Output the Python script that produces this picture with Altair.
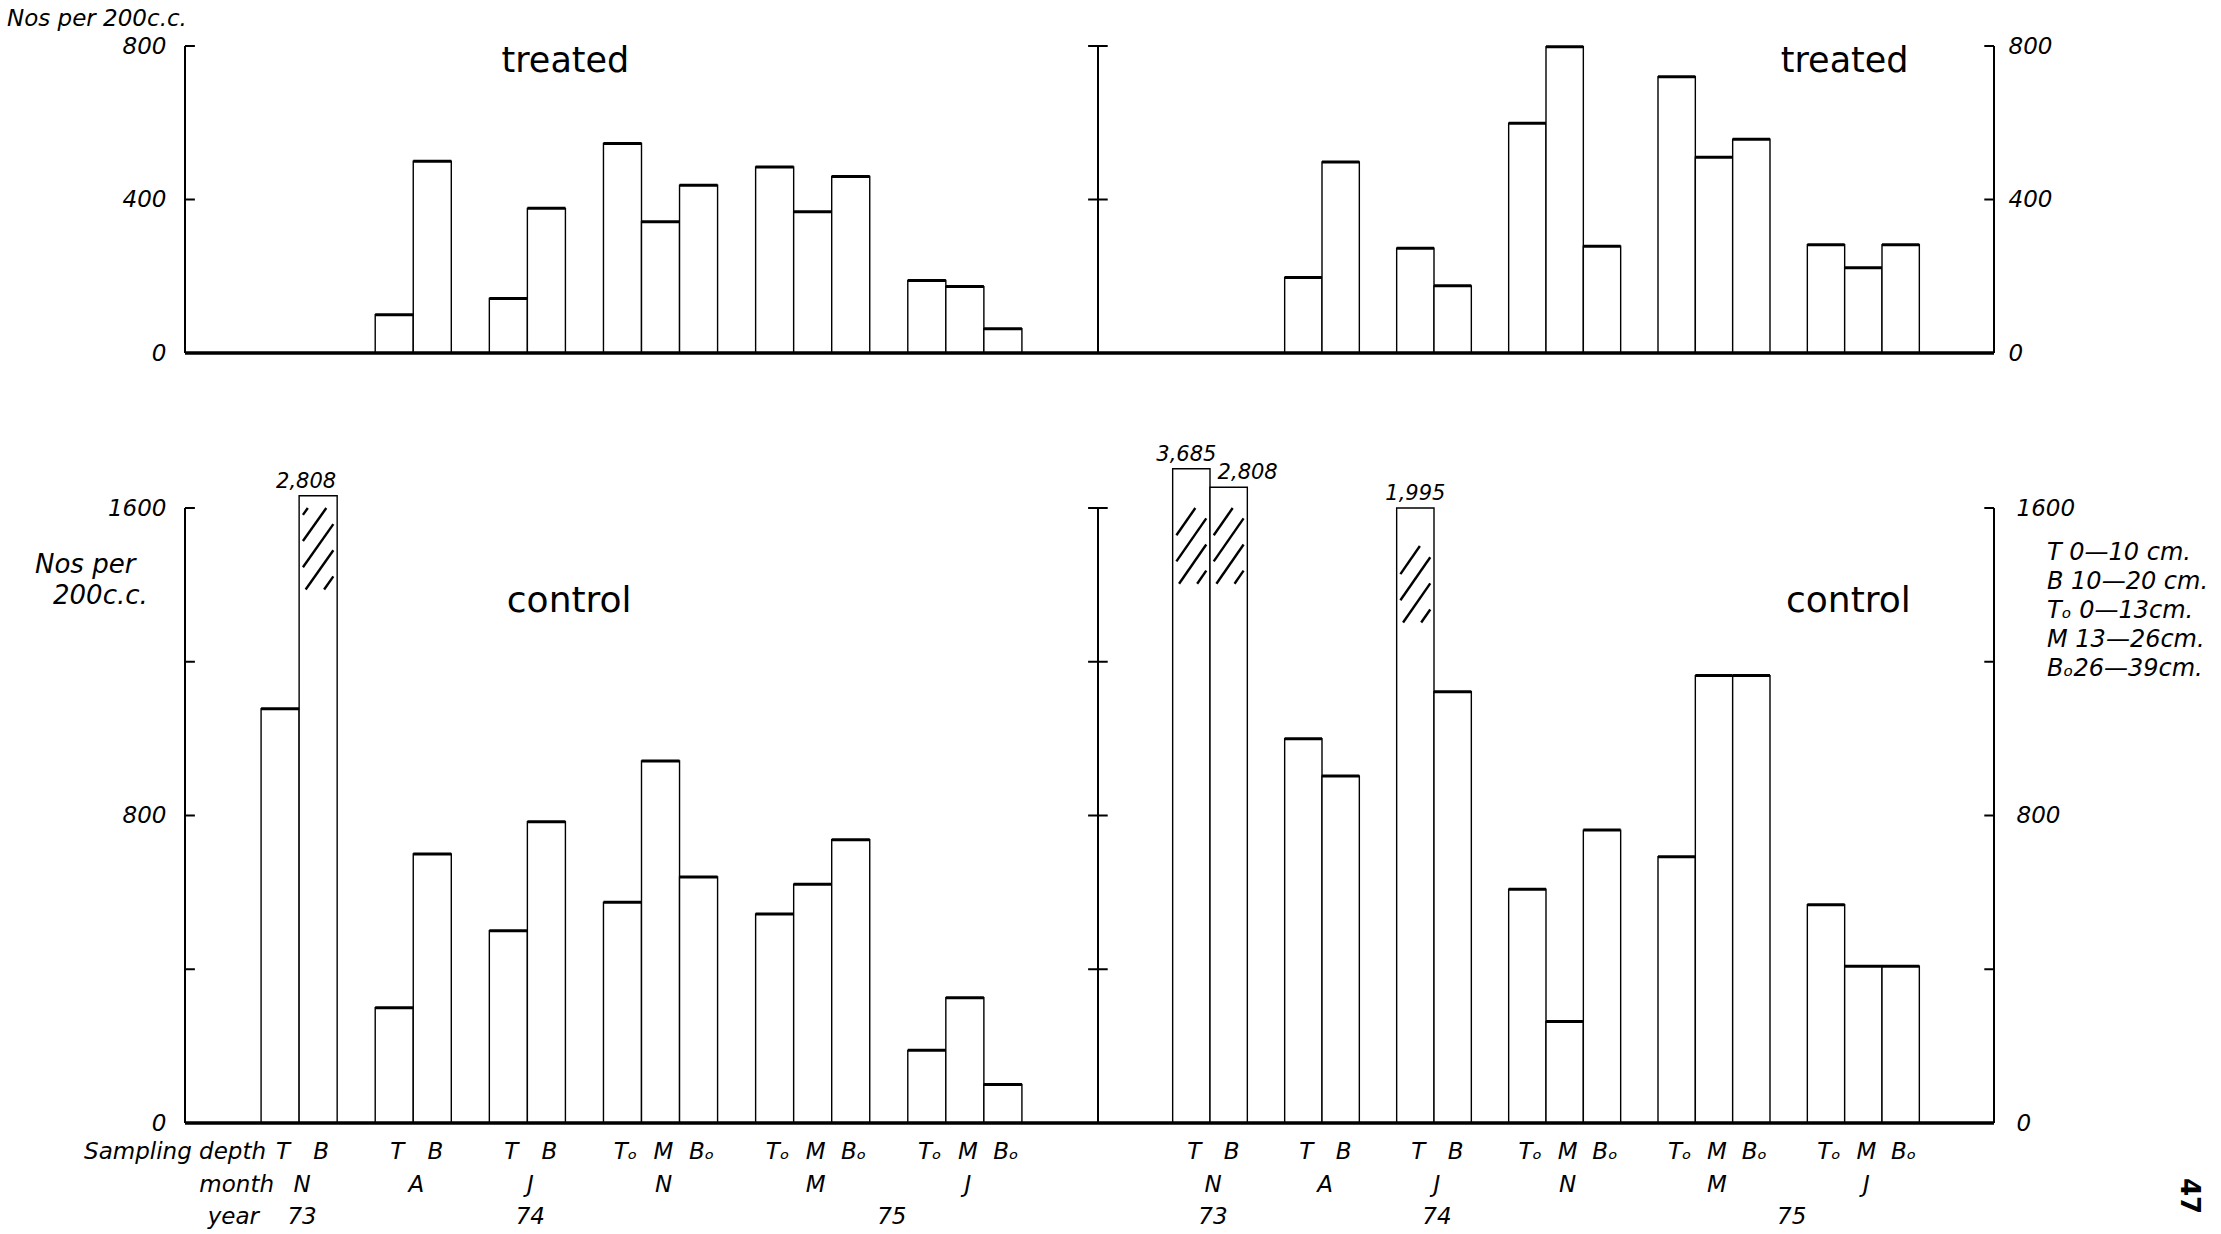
import altair as alt
import pandas as pd

# ---------------- data ----------------
slots = [2, 3, 5, 6, 8, 9, 11, 12, 13, 15, 16, 17, 19, 20, 21]
depth = ["T", "B", "T", "B", "T", "B", "Tₒ", "M", "Bₒ", "Tₒ", "M", "Bₒ", "Tₒ", "M", "Bₒ"]
months = ["N", "A", "J", "N", "M", "J"]
month_pos = [3, 6, 9, 12.5, 16.5, 20.5]
years = ["73", "74", "75"]
year_pos = [3, 9, 18.5]

treated_left = [0, 0, 100, 500, 142, 377, 546, 342, 437, 485, 368, 460, 189, 173, 63]
treated_right = [0, 0, 197, 498, 273, 175, 599, 798, 278, 720, 510, 557, 282, 222, 282]
control_left = [1078, 2808, 300, 700, 500, 784, 574, 942, 640, 544, 621, 737, 189, 326, 100]
control_right = [3685, 2808, 1000, 903, 1995, 1122, 608, 264, 762, 693, 1164, 1164, 568, 408, 408]

# bars that run off the scale (drawn broken, with hatching)
broken_side = ["left", "right", "right", "right"]
broken_slot = [3, 2, 3, 8]
broken_label = ["2,808", "3,685", "2,808", "1,995"]
broken_drawn = [1632, 1702, 1654, 1600]
broken_hatch_lo = [1388, 1403, 1403, 1302]
broken_hatch_hi = [1600, 1600, 1600, 1501]

legend_lines = ["T  0—10 cm.", "B 10—20 cm.", "Tₒ 0—13cm.", "M 13—26cm.", "Bₒ26—39cm."]

top_ticks = [0, 400, 800]
top_labels = [0, 400, 800]
bot_ticks = [0, 400, 800, 1200, 1600]
bot_labels = [0, 800, 1600]

# ---------------- layout / style ----------------
FONT = "DejaVu Sans"
W, LW = 1809, 913
HT, HB = 307, 615
OFF = {"left": 0, "right": 24}
xs = alt.Scale(domain=[0, 24, 48], range=[0, LW, W], nice=False, zero=False)
yt = alt.Scale(domain=[0, 800], nice=False, zero=True)
yb = alt.Scale(domain=[0, 1600], nice=False, zero=True)
label_dx = [-12, -5, 19, 0]


def X():
    return alt.X("x:Q", scale=xs, axis=None)


def yaxis(orient, values, pad):
    return alt.Axis(orient=orient, values=values, format="d", domain=False, ticks=False,
                    grid=False, labelFont=FONT, labelFontSize=23, labelFontStyle="italic",
                    labelColor="black", labelPadding=pad, title=None, labelFlush=False)


def bar_frame(left_vals, right_vals, use_broken):
    rows = []
    for side, vals in (("left", left_vals), ("right", right_vals)):
        for s, d, v in zip(slots, depth, vals):
            if v <= 0:
                continue
            top, broken = v, False
            if use_broken:
                for bs, bsl, bd in zip(broken_side, broken_slot, broken_drawn):
                    if bs == side and bsl == s:
                        top, broken = bd, True
            x = s + OFF[side]
            rows.append(dict(x=x, x2=x + 1, y=top, y0=0, value=v, depth=d, broken=broken))
    return pd.DataFrame(rows)


def frame_layers(ys, ticks, labels, right_pad):
    ymax = ticks[-1]
    axes = pd.DataFrame({"x": [0, 24, 48], "y": [0, 0, 0], "y2": [ymax] * 3})
    axis_rules = alt.Chart(axes).mark_rule(color="black", strokeWidth=2).encode(
        x=X(), y=alt.Y("y:Q", scale=ys, axis=yaxis("right", labels, right_pad)), y2="y2:Q")
    trows = []
    for v in ticks[1:]:
        trows += [dict(x=0, x2=0.26, y=v), dict(x=23.74, x2=24.26, y=v), dict(x=47.74, x2=48, y=v)]
    tick_rules = alt.Chart(pd.DataFrame(trows)).mark_rule(color="black", strokeWidth=2).encode(
        x=X(), x2="x2:Q", y=alt.Y("y:Q", scale=ys, axis=None))
    base = alt.Chart(pd.DataFrame({"x": [0], "x2": [48], "y": [0]})).mark_rule(
        color="black", strokeWidth=3.5).encode(x=X(), x2="x2:Q", y=alt.Y("y:Q", scale=ys, axis=None))
    return [axis_rules, tick_rules, base]


def bar_layers(df, ys, labels):
    rects = alt.Chart(df).mark_rect(fill="white", stroke="black", strokeWidth=1.4).encode(
        x=X(), x2="x2:Q", y=alt.Y("y:Q", scale=ys, axis=yaxis("left", labels, 19)), y2="y0:Q")
    tops = alt.Chart(df[~df["broken"]]).mark_rule(color="black", strokeWidth=3).encode(
        x=X(), x2="x2:Q", y=alt.Y("y:Q", scale=ys, axis=None))
    return [rects, tops]


def text_kw(size, italic=True, **kw):
    d = dict(font=FONT, fontSize=size, color="black")
    if italic:
        d["fontStyle"] = "italic"
    d.update(kw)
    return d


# ---------------- top row: treated ----------------
tdf = bar_frame(treated_left, treated_right, False)
top_layers = bar_layers(tdf, yt, top_labels) + frame_layers(yt, top_ticks, top_labels, 14)
top_layers.append(
    alt.Chart(pd.DataFrame({"x": [10, 44], "y": [732, 732], "t": ["treated", "treated"]}))
    .mark_text(**text_kw(35, italic=False, align="center", baseline="alphabetic"))
    .encode(x=X(), y=alt.Y("y:Q", scale=yt, axis=None), text="t:N"))
top_layers.append(
    alt.Chart(pd.DataFrame({"t": ["Nos per 200c.c."]}))
    .mark_text(**text_kw(23, align="left", baseline="alphabetic"))
    .encode(x=alt.value(-178), y=alt.value(-20), text="t:N"))
top = alt.layer(*top_layers).properties(width=W, height=HT).resolve_axis(y="independent")

# ---------------- bottom row: control ----------------
bdf = bar_frame(control_left, control_right, True)
bot_layers = bar_layers(bdf, yb, bot_labels) + frame_layers(yb, bot_ticks, bot_labels, 22)

# hatching of the broken bars
S, GAP, INSET = 140.0, 68.0, 0.1
hrows = []
for side, s, lo, hi in zip(broken_side, broken_slot, broken_hatch_lo, broken_hatch_hi):
    x0 = s + OFF[side] + INSET
    x1 = s + OFF[side] + 1 - INSET
    c = -S * (x1 - x0) + GAP / 2
    while c < hi - lo:
        xa = max(x0, x0 - c / S)
        xb = min(x1, x0 + (hi - lo - c) / S)
        if xb - xa > 0.08:
            hrows.append(dict(x=xa, x2=xb, y=lo + c + S * (xa - x0), y2=lo + c + S * (xb - x0)))
        c += GAP
bot_layers.append(
    alt.Chart(pd.DataFrame(hrows)).mark_rule(color="black", strokeWidth=2.4).encode(
        x=X(), x2="x2:Q", y=alt.Y("y:Q", scale=yb, axis=None), y2="y2:Q"))

# labels of the broken bars
for side, s, lab, top_v, dx in zip(broken_side, broken_slot, broken_label, broken_drawn, label_dx):
    bot_layers.append(
        alt.Chart(pd.DataFrame({"x": [s + OFF[side] + 0.5], "y": [top_v], "t": [lab]}))
        .mark_text(**text_kw(21, align="center", baseline="bottom", dx=dx, dy=-4))
        .encode(x=X(), y=alt.Y("y:Q", scale=yb, axis=None), text="t:N"))

bot_layers.append(
    alt.Chart(pd.DataFrame({"x": [10.1, 44.1], "y": [1329, 1329], "t": ["control", "control"]}))
    .mark_text(**text_kw(36, italic=False, align="center", baseline="alphabetic"))
    .encode(x=X(), y=alt.Y("y:Q", scale=yb, axis=None), text="t:N"))

# category rows under the axis
drows, mrows, yrows = [], [], []
for side in ("left", "right"):
    drows += [dict(x=s + OFF[side] + 0.5, t=d) for s, d in zip(slots, depth)]
    mrows += [dict(x=p + OFF[side], t=m) for p, m in zip(month_pos, months)]
    yrows += [dict(x=p + OFF[side], t=y) for p, y in zip(year_pos, years)]
for rows, ypx in ((drows, 644), (mrows, 677), (yrows, 709)):
    bot_layers.append(
        alt.Chart(pd.DataFrame(rows))
        .mark_text(**text_kw(23, align="center", baseline="middle", dx=3))
        .encode(x=X(), y=alt.value(ypx), text="t:N"))
for lab, xpx, ypx in (("Sampling depth", 81, 644), ("month", 89, 677), ("year", 74, 709)):
    bot_layers.append(
        alt.Chart(pd.DataFrame({"t": [lab]}))
        .mark_text(**text_kw(23, align="right", baseline="middle"))
        .encode(x=alt.value(xpx), y=alt.value(ypx), text="t:N"))

# y title, legend, page number
for lab, xpx, ypx in (("Nos per", -150, 65), ("200c.c.", -132, 96)):
    bot_layers.append(
        alt.Chart(pd.DataFrame({"t": [lab]}))
        .mark_text(**text_kw(26, align="left", baseline="alphabetic"))
        .encode(x=alt.value(xpx), y=alt.value(ypx), text="t:N"))
bot_layers.append(
    alt.Chart(pd.DataFrame({"k": [0]}))
    .mark_text(**text_kw(24, align="left", baseline="alphabetic", lineHeight=29))
    .encode(x=alt.value(1862), y=alt.value(52), text=alt.value(legend_lines)))
bot_layers.append(
    alt.Chart(pd.DataFrame({"t": ["47"]}))
    .mark_text(**text_kw(26, italic=False, align="center", baseline="middle", angle=90, fontWeight="bold"))
    .encode(x=alt.value(2004), y=alt.value(688), text="t:N"))

bottom = alt.layer(*bot_layers).properties(width=W, height=HB).resolve_axis(y="independent")

chart = (
    alt.vconcat(top, bottom, spacing=155, bounds="flush")
    .properties(padding={"left": 7, "top": 8, "right": 8, "bottom": 4}, background="white")
    .configure_view(stroke=None)
)

chart.save("out.html", embed_options={"renderer": "svg", "actions": False})
